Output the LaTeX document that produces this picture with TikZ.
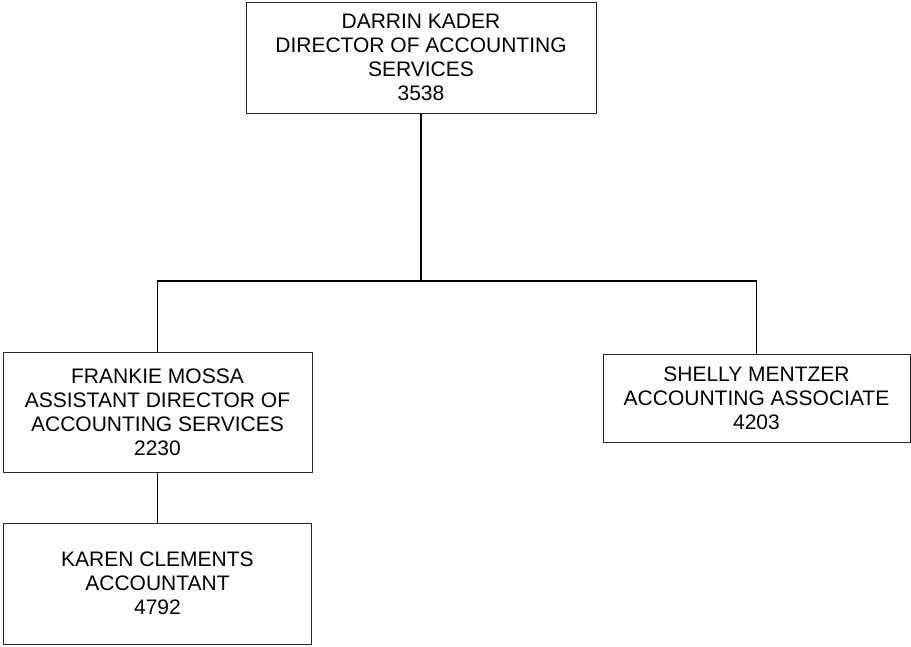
\documentclass[tikz,border=0pt]{standalone}
\usepackage{fontspec}
\setmainfont{Liberation Sans}
\begin{document}
\begin{tikzpicture}[x=1pt, y=-1pt,
        orgbox/.style={draw=black!85, line width=1pt, align=center, inner sep=0pt,
            font=\fontsize{21}{24}\selectfont},
        orgline/.style={draw=black, line width=1.2pt}]
        \useasboundingbox (0,0) rectangle (911,646);

        % boxes
        \node[orgbox, minimum width=350, minimum height=111] (director) at (421,57.5)
            {DARRIN KADER\\DIRECTOR OF ACCOUNTING\\SERVICES\\3538};
        \node[orgbox, minimum width=309, minimum height=120] (asstdir) at (157.5,412)
            {FRANKIE MOSSA\\ASSISTANT DIRECTOR OF\\ACCOUNTING SERVICES\\2230};
        \node[orgbox, minimum width=307, minimum height=88] (associate) at (756.5,398)
            {SHELLY MENTZER\\ACCOUNTING ASSOCIATE\\4203};
        \node[orgbox, minimum width=308, minimum height=121] (accountant) at (157.5,583.5)
            {KAREN CLEMENTS\\ACCOUNTANT\\4792};

        % connectors
        \coordinate (split) at (421,281);
        \draw[orgline] (director.south) -- (split);
        \draw[orgline] (split) -| (asstdir.north);
        \draw[orgline] (split) -| (associate.north);
        \draw[orgline] (asstdir.south) -- (accountant.north);
    \end{tikzpicture}
\end{document}
